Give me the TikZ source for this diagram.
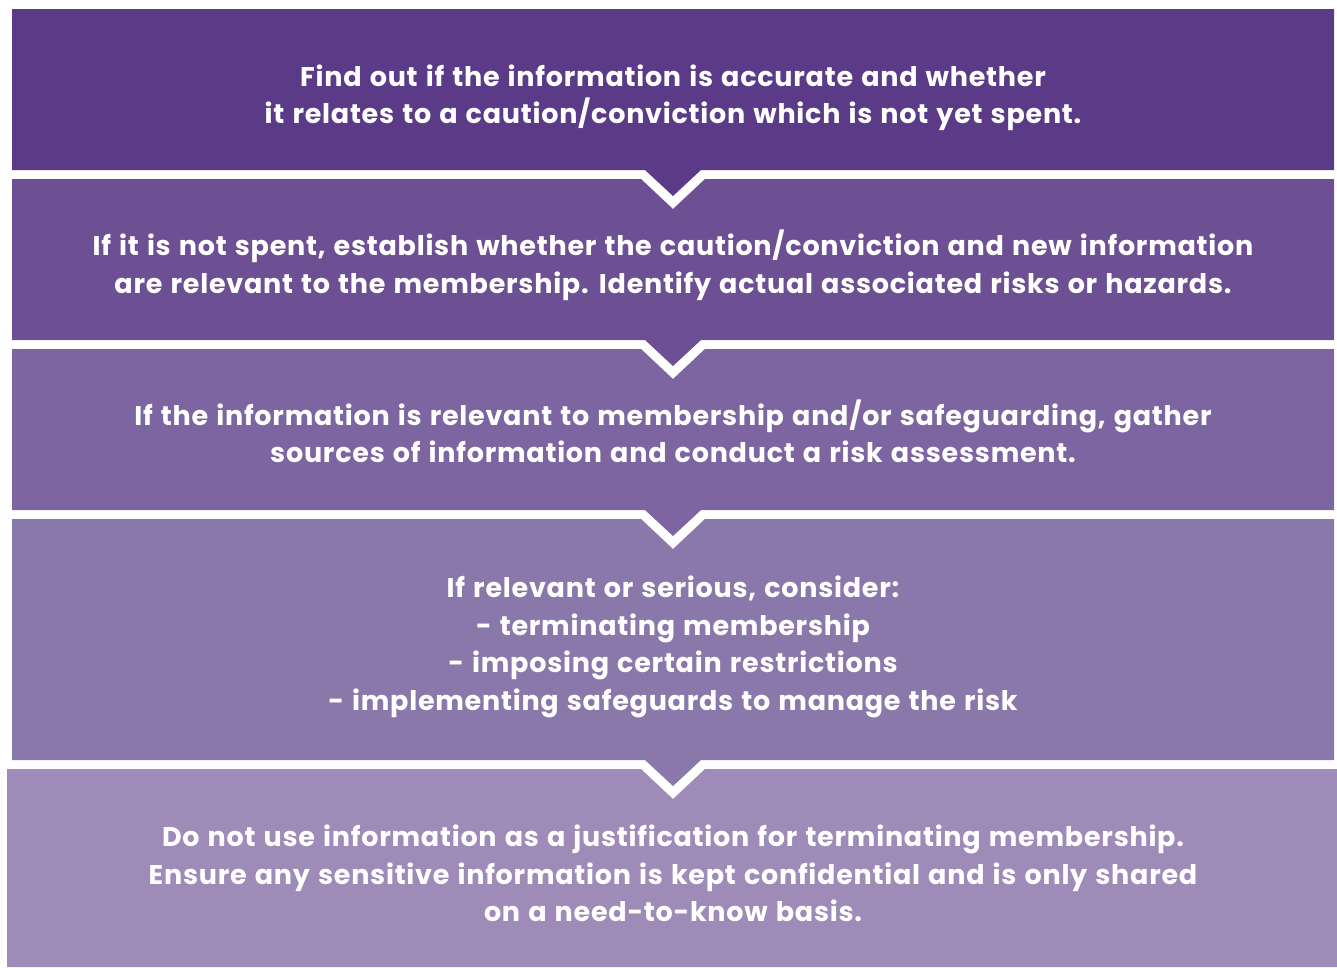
\documentclass[tikz,border=0pt]{standalone}
\usepackage{fontspec}
\setmainfont{Poppins}[LetterSpace=2.8,WordSpace=1.25]
\definecolor{cA}{RGB}{91,58,135}
\definecolor{cB}{RGB}{108,80,147}
\definecolor{cC}{RGB}{124,101,160}
\definecolor{cD}{RGB}{139,120,171}
\definecolor{cE}{RGB}{158,139,184}
\begin{document}
\begin{tikzpicture}[x=1pt,y=-1pt,
  txt/.style={text=white,align=center,inner sep=0pt,font=\bfseries\fontsize{27}{37.5}\selectfont}]
\useasboundingbox (0,0) rectangle (1337,967);
\fill[cA] (12,9) -- (1334,9) -- (1334,170) -- (701,170) -- (673,196) -- (645,170) -- (12,170) -- cycle;
\fill[cB] (12,179) -- (641,179) -- (673,209) -- (705,179) -- (1334,179) -- (1334,340) -- (701,340) -- (673,366) -- (645,340) -- (12,340) -- cycle;
\fill[cC] (12,349) -- (641,349) -- (673,379) -- (705,349) -- (1334,349) -- (1334,510) -- (701,510) -- (673,536) -- (645,510) -- (12,510) -- cycle;
\fill[cD] (12,519) -- (641,519) -- (673,549) -- (705,519) -- (1334,519) -- (1334,760) -- (701,760) -- (673,786) -- (645,760) -- (12,760) -- cycle;
\fill[cE] (7,769) -- (641,769) -- (673,799) -- (705,769) -- (1337,769) -- (1337,967) -- (7,967) -- cycle;
\node[txt] (t1) at (673,98) {Find out if the information is accurate and whether\\it relates to a caution/conviction which is not yet spent.};
\node[txt] (t2) at (673,265.5) {If it is not spent, establish whether the caution/conviction and new information\\are relevant to the membership. Identify actual associated risks or hazards.};
\node[txt] (t3) at (673,431.5) {If the information is relevant to membership and/or safeguarding, gather\\sources of information and conduct a risk assessment.};
\node[txt] (t4) at (673,647) {If relevant or serious, consider:\\- terminating membership\\- imposing certain restrictions\\- implementing safeguards to manage the risk};
\node[txt] (t5) at (673,873.5) {Do not use information as a justification for terminating membership.\\Ensure any sensitive information is kept confidential and is only shared\\on a need-to-know basis.};
\end{tikzpicture}
\end{document}
